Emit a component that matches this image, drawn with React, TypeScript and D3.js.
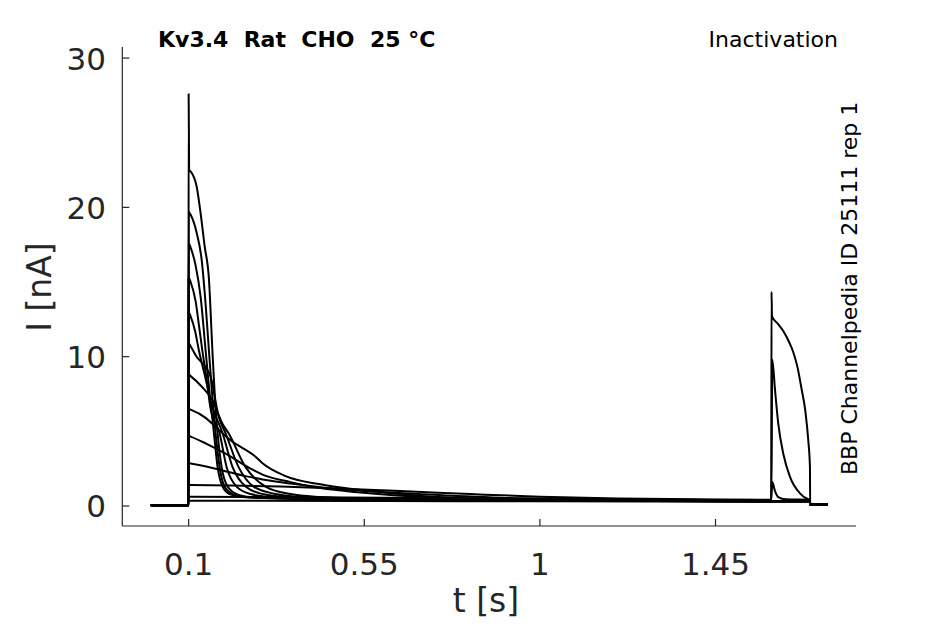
import * as d3 from 'd3'

// time [s], current [nA]
const xTicks = [0.1, 0.55, 1, 1.45]
const xTickLabels = ['0.1', '0.55', '1', '1.45']
const yTicks = [0, 10, 20, 30]
const yTickLabels = ['0', '10', '20', '30']

const traceA: [number, number][] = [
  [0.003, 0.05], [0.0995, 0.05], [0.1, 27.6], [0.1012, 22.5], [0.1051, 22.4], [0.1205, 21.4],
  [0.1307, 19.6], [0.141, 17.4], [0.152, 15.2], [0.1607, 10.5], [0.1678, 7.0], [0.1742, 4.87],
  [0.1845, 2.6], [0.1998, 1.3], [0.2229, 0.8], [0.2587, 0.6], [0.3611, 0.5], [0.6, 0.42],
  [1.0, 0.36], [1.3, 0.33], [1.593, 0.3], [1.692, 0.3], [1.6925, 0.1], [1.738, 0.1]
]
const traceB: [number, number][] = [
  [0.003, 0.05], [0.0995, 0.05], [0.1, 19.7], [0.1051, 19.5], [0.1205, 18.3], [0.1333, 16.5],
  [0.1435, 13.5], [0.152, 10.4], [0.1601, 7.5], [0.1691, 4.87], [0.1793, 2.6], [0.1921, 1.3],
  [0.2126, 0.8], [0.2485, 0.6], [0.35, 0.5], [0.6, 0.42], [1.0, 0.37], [1.3, 0.34],
  [1.593, 0.31], [1.692, 0.31], [1.6925, 0.1], [1.738, 0.1]
]
const traceC: [number, number][] = [
  [0.003, 0.05], [0.0995, 0.05], [0.1, 17.6], [0.1051, 17.3], [0.1179, 16.1], [0.1307, 14.0],
  [0.1435, 10.4], [0.1538, 7.5], [0.1648, 4.87], [0.1742, 2.6], [0.187, 1.3], [0.2049, 0.8],
  [0.2382, 0.6], [0.34, 0.5], [0.6, 0.41], [1.0, 0.36], [1.3, 0.33], [1.593, 0.3],
  [1.692, 0.3], [1.6925, 0.1], [1.738, 0.1]
]
const traceD: [number, number][] = [
  [0.003, 0.05], [0.0995, 0.05], [0.1, 15.3], [0.1051, 15.0], [0.1179, 13.7], [0.1269, 12.0],
  [0.1351, 10.4], [0.1461, 8.5], [0.1563, 6.5], [0.1793, 4.87], [0.1973, 2.6], [0.2229, 1.3],
  [0.2587, 0.8], [0.3099, 0.6], [0.4, 0.5], [0.6, 0.43], [1.0, 0.37], [1.3, 0.34],
  [1.593, 0.31], [1.692, 0.31], [1.6925, 0.1], [1.738, 0.1]
]
const traceE: [number, number][] = [
  [0.003, 0.05], [0.0995, 0.05], [0.1, 13.0], [0.1051, 12.7], [0.1166, 11.7], [0.1264, 10.4],
  [0.141, 8.8], [0.1576, 6.9], [0.187, 4.87], [0.2126, 2.6], [0.2459, 1.3], [0.2894, 0.8],
  [0.3483, 0.6], [0.45, 0.5], [0.65, 0.43], [1.0, 0.37], [1.3, 0.34], [1.593, 0.31],
  [1.692, 0.31], [1.6925, 0.1], [1.738, 0.1]
]
const traceF: [number, number][] = [
  [0.003, 0.05], [0.0995, 0.05], [0.1, 10.9], [0.1051, 10.7], [0.1179, 10.1], [0.1563, 8.66],
  [0.1768, 6.0], [0.1947, 4.87], [0.228, 2.6], [0.2664, 1.3], [0.3227, 0.8], [0.3867, 0.6],
  [0.5, 0.5], [0.7, 0.43], [1.0, 0.38], [1.3, 0.35], [1.593, 0.32], [1.692, 0.32],
  [1.6925, 0.1], [1.738, 0.1]
]
const traceG: [number, number][] = [
  [0.003, 0.05], [0.0995, 0.05], [0.1, 8.8], [0.1051, 8.7], [0.1333, 8.0], [0.1607, 7.1],
  [0.187, 5.5], [0.2024, 4.87], [0.2459, 2.6], [0.2971, 1.3], [0.3611, 0.8], [0.4379, 0.6],
  [0.55, 0.5], [0.75, 0.43], [1.0, 0.39], [1.3, 0.35], [1.593, 0.32], [1.692, 0.32],
  [1.6925, 0.1], [1.738, 0.1]
]
const traceH: [number, number][] = [
  [0.003, 0.05], [0.0995, 0.05], [0.1, 6.5], [0.1051, 6.45], [0.1435, 5.9], [0.1691, 5.3],
  [0.2075, 4.4], [0.2715, 3.3], [0.2894, 2.86], [0.3483, 2.0], [0.4379, 1.45], [0.5402, 1.07],
  [0.6682, 0.74], [0.7962, 0.52], [1.0, 0.42], [1.3, 0.37], [1.593, 0.33], [1.692, 0.33],
  [1.6925, 0.1], [1.738, 0.1]
]
const traceI: [number, number][] = [
  [0.003, 0.05], [0.0995, 0.05], [0.1, 4.7], [0.1051, 4.65], [0.1435, 4.2], [0.1947, 3.5],
  [0.2587, 2.5], [0.2894, 2.1], [0.3611, 1.6], [0.4379, 1.2], [0.5402, 0.9], [0.6682, 0.65],
  [0.8218, 0.5], [1.0, 0.42], [1.3, 0.37], [1.593, 0.33], [1.692, 0.33], [1.6925, 0.1],
  [1.738, 0.1]
]
const traceJ: [number, number][] = [
  [0.003, 0.05], [0.0995, 0.05], [0.1, 2.86], [0.1051, 2.84], [0.1691, 2.5], [0.2459, 2.0],
  [0.2894, 1.78], [0.3611, 1.5], [0.45, 1.22], [0.5658, 0.98], [0.7, 0.78], [0.8986, 0.55],
  [1.1, 0.45], [1.3, 0.38], [1.593, 0.34], [1.692, 0.34], [1.6925, 0.1], [1.738, 0.1]
]
const traceK: [number, number][] = [
  [0.003, 0.05], [0.0995, 0.05], [0.1, 1.4], [0.1051, 1.4], [0.2075, 1.38], [0.3355, 1.3],
  [0.4635, 1.18], [0.6426, 1.0], [0.8218, 0.8], [1.0, 0.62], [1.2, 0.5], [1.4, 0.45],
  [1.593, 0.42], [1.5955, 1.6], [1.6024, 1.0], [1.6109, 0.6], [1.63, 0.45], [1.692, 0.42],
  [1.6925, 0.1], [1.738, 0.1]
]
const traceL: [number, number][] = [
  [0.003, 0.05], [0.0995, 0.05], [0.1, 0.62], [0.1051, 0.62], [0.3, 0.6], [0.6, 0.55],
  [1.0, 0.48], [1.3, 0.43], [1.593, 0.4], [1.5955, 9.8], [1.6024, 7.8], [1.6109, 5.5],
  [1.6237, 3.5], [1.6409, 1.95], [1.6664, 0.85], [1.6877, 0.45], [1.692, 0.42],
  [1.6925, 0.1], [1.738, 0.1]
]
const traceM: [number, number][] = [
  [0.003, 0.05], [0.0995, 0.05], [0.1, 0.35], [0.1051, 0.35], [0.6, 0.33], [1.0, 0.32],
  [1.593, 0.3], [1.5935, 14.35], [1.5948, 12.7], [1.61, 12.2], [1.624, 11.7], [1.64, 10.9],
  [1.6493, 10.3], [1.66, 9.3], [1.6708, 7.8], [1.68, 6.4], [1.6877, 4.4], [1.692, 2.6],
  [1.6925, 0.1], [1.738, 0.1]
]

const traces = [traceM, traceL, traceK, traceJ, traceI, traceH, traceG, traceF, traceE, traceD, traceC, traceB, traceA]

const font = 'DejaVu Sans, sans-serif'
const ink = '#262626'

export default function App() {
  const width = 945
  const height = 624
  const x = d3.scaleLinear().domain([-0.07, 1.81]).range([122.3, 856])
  const y = d3.scaleLinear().domain([-1.34, 30.74]).range([526, 47])

  const line = d3.line<[number, number]>()
    .x(d => x(d[0]))
    .y(d => y(d[1]))
    .curve(d3.curveMonotoneX)

  const x0 = x.range()[0]
  const x1 = x.range()[1]
  const yBottom = y.range()[0]
  const yTop = y.range()[1]

  return (
    <svg width={width} height={height} style={{ position: 'absolute', left: 0, top: 0, background: '#fff' }}>
      <rect width={width} height={height} fill="#fff" />

      {/* traces */}
      {traces.map((tr, i) => (
        <path key={i} d={line(tr) || ''} fill="none" stroke="#000" strokeWidth={2} strokeLinejoin="round" />
      ))}

      {/* axes */}
      <line x1={x0} y1={yBottom} x2={x1} y2={yBottom} stroke={ink} strokeWidth={1.2} />
      <line x1={x0} y1={yBottom} x2={x0} y2={yTop} stroke={ink} strokeWidth={1.2} />

      {xTicks.map((t, i) => (
        <g key={'xt' + i}>
          <line x1={x(t)} x2={x(t)} y1={yBottom} y2={yBottom - 7} stroke={ink} strokeWidth={1.2} />
          <text x={x(t)} y={575} textAnchor="middle" fill={ink} fontSize={31} fontFamily={font}>
            {xTickLabels[i]}
          </text>
        </g>
      ))}

      {yTicks.map((v, i) => (
        <g key={'yt' + i}>
          <line x1={x0} x2={x0 + 7} y1={y(v)} y2={y(v)} stroke={ink} strokeWidth={1.2} />
          <text x={106} y={y(v) + 11.5} textAnchor="end" fill={ink} fontSize={31} fontFamily={font}>
            {yTickLabels[i]}
          </text>
        </g>
      ))}

      {/* axis labels */}
      <text x={486} y={612} textAnchor="middle" fill={ink} fontSize={33} fontFamily={font}>t [s]</text>
      <text transform="translate(51,287) rotate(-90)" textAnchor="middle" fill={ink} fontSize={33} fontFamily={font}>
        I [nA]
      </text>

      {/* annotations */}
      <text x={158} y={47} fill="#000" fontSize={22} fontWeight="bold" fontFamily={font} style={{ whiteSpace: 'pre' }}>
        {'Kv3.4  Rat  CHO  25 °C'}
      </text>
      <text x={838} y={47} textAnchor="end" fill="#000" fontSize={22} fontFamily={font}>Inactivation</text>
      <text transform="translate(857,475) rotate(-90)" fill="#000" fontSize={22} fontFamily={font}>
        BBP Channelpedia ID 25111 rep 1
      </text>
    </svg>
  )
}
